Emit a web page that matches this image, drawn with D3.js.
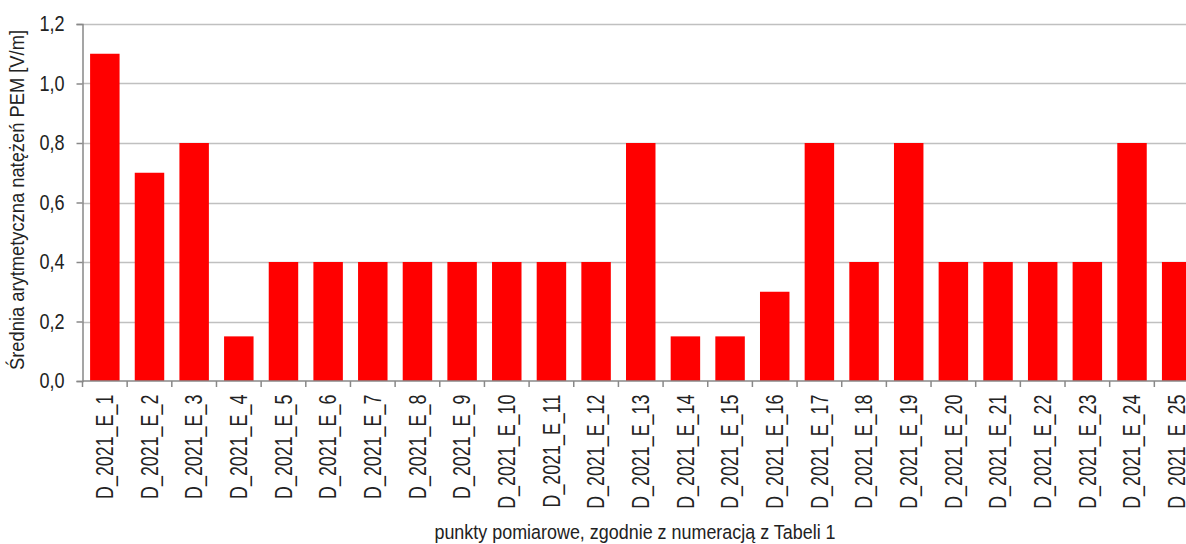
<!DOCTYPE html>
<html>
<head>
<meta charset="utf-8">
<script src="https://cdn.jsdelivr.net/npm/d3@7"></script>
<style>
body { margin: 0; background: #fff; }
text { font-family: "Liberation Sans", Arial, sans-serif; fill: #222; }
</style>
</head>
<body>
<script>
// punkty pomiarowe i srednie natezenia PEM
var points = ["D_2021_E_1","D_2021_E_2","D_2021_E_3","D_2021_E_4","D_2021_E_5","D_2021_E_6","D_2021_E_7",
	"D_2021_E_8","D_2021_E_9","D_2021_E_10","D_2021_E_11","D_2021_E_12","D_2021_E_13","D_2021_E_14",
	"D_2021_E_15","D_2021_E_16","D_2021_E_17","D_2021_E_18","D_2021_E_19","D_2021_E_20","D_2021_E_21",
	"D_2021_E_22","D_2021_E_23","D_2021_E_24","D_2021_E_25"]
var values = [1.1,0.7,0.8,0.15,0.4,0.4,0.4,0.4,0.4,0.4,0.4,0.4,0.8,0.15,0.15,0.3,0.8,0.4,0.8,0.4,0.4,0.4,0.4,0.8,0.4]
var yTicks = [0,0.2,0.4,0.6,0.8,1.0,1.2]
var yTitle = "Średnia arytmetyczna natężeń PEM [V/m]"
var xTitle = "punkty pomiarowe, zgodnie z numeracją z Tabeli 1"

var W = 1186, H = 544
var mLeft = 82.5, mTop = 24, mBottom = 381, mRight = 1199

var svg = d3.select("body").append("svg")
	.attr("width", W)
	.attr("height", H)

var x = d3.scaleBand().domain(points).range([mLeft, mRight]).paddingInner(0.34).paddingOuter(0.17)
var y = d3.scaleLinear().domain([0, 1.2]).range([mBottom, mTop])

// grid
svg.append("g")
	.selectAll("line")
	.data(yTicks.slice(1))
	.enter()
	.append("line")
	.attr("x1", mLeft).attr("x2", W)
	.attr("y1", function(d){return Math.round(y(d)) + 0.5})
	.attr("y2", function(d){return Math.round(y(d)) + 0.5})
	.style("stroke", "#c0c0c0")
	.style("stroke-width", 1.3)

// bars
svg.append("g")
	.selectAll("rect")
	.data(values)
	.enter()
	.append("rect")
	.attr("x", function(d,i){return x(points[i])})
	.attr("width", x.bandwidth())
	.attr("y", function(d){return y(d)})
	.attr("height", function(d){return y(0) - y(d)})
	.style("fill", "#ff0000")

// y axis
var yAxis = svg.append("g")
	.attr("transform", "translate(" + mLeft + ",0)")
	.call(d3.axisLeft(y).tickValues(yTicks).tickSize(6).tickPadding(8)
		.tickFormat(function(d){return d3.format(".1f")(d).replace(".", ",")}))
yAxis.select(".domain").style("stroke", "#888").style("stroke-width", 1.5)
yAxis.selectAll(".tick line").style("stroke", "#888").style("stroke-width", 1.5)
yAxis.selectAll("text")
	.attr("x", null)
	.attr("transform", "translate(-18,0) scale(0.84,1)")
	.style("font-size", "21.5px").style("fill", "#222")

// x axis
var xAxis = svg.append("g")
	.attr("transform", "translate(0," + mBottom + ")")
	.call(d3.axisBottom(x).tickSize(0).tickPadding(0))
xAxis.select(".domain").remove()
svg.append("line")
	.attr("x1", mLeft).attr("x2", W)
	.attr("y1", mBottom).attr("y2", mBottom)
	.style("stroke", "#888").style("stroke-width", 1.5)
// separator ticks between categories
svg.append("g")
	.selectAll("line")
	.data(points)
	.enter()
	.append("line")
	.attr("x1", function(d){return x(d) - x.step()*x.paddingInner()/2})
	.attr("x2", function(d){return x(d) - x.step()*x.paddingInner()/2})
	.attr("y1", mBottom).attr("y2", mBottom + 6)
	.style("stroke", "#888").style("stroke-width", 1.5)

xAxis.selectAll("text")
	.attr("transform", "rotate(-90) scale(0.76,1)")
	.attr("x", -18)
	.attr("y", 0)
	.attr("dy", "0.35em")
	.style("text-anchor", "end")
	.style("font-size", "23.5px")
	.style("fill", "#222")

// titles
svg.append("text")
	.attr("transform", "translate(24,200) rotate(-90) scale(0.94,1)")
	.attr("text-anchor", "middle")
	.style("font-size", "19.5px")
	.text(yTitle)

svg.append("text")
	.attr("transform", "translate(635,539) scale(0.92,1)")
	.attr("text-anchor", "middle")
	.style("font-size", "19.5px")
	.text(xTitle)
</script>
</body>
</html>
